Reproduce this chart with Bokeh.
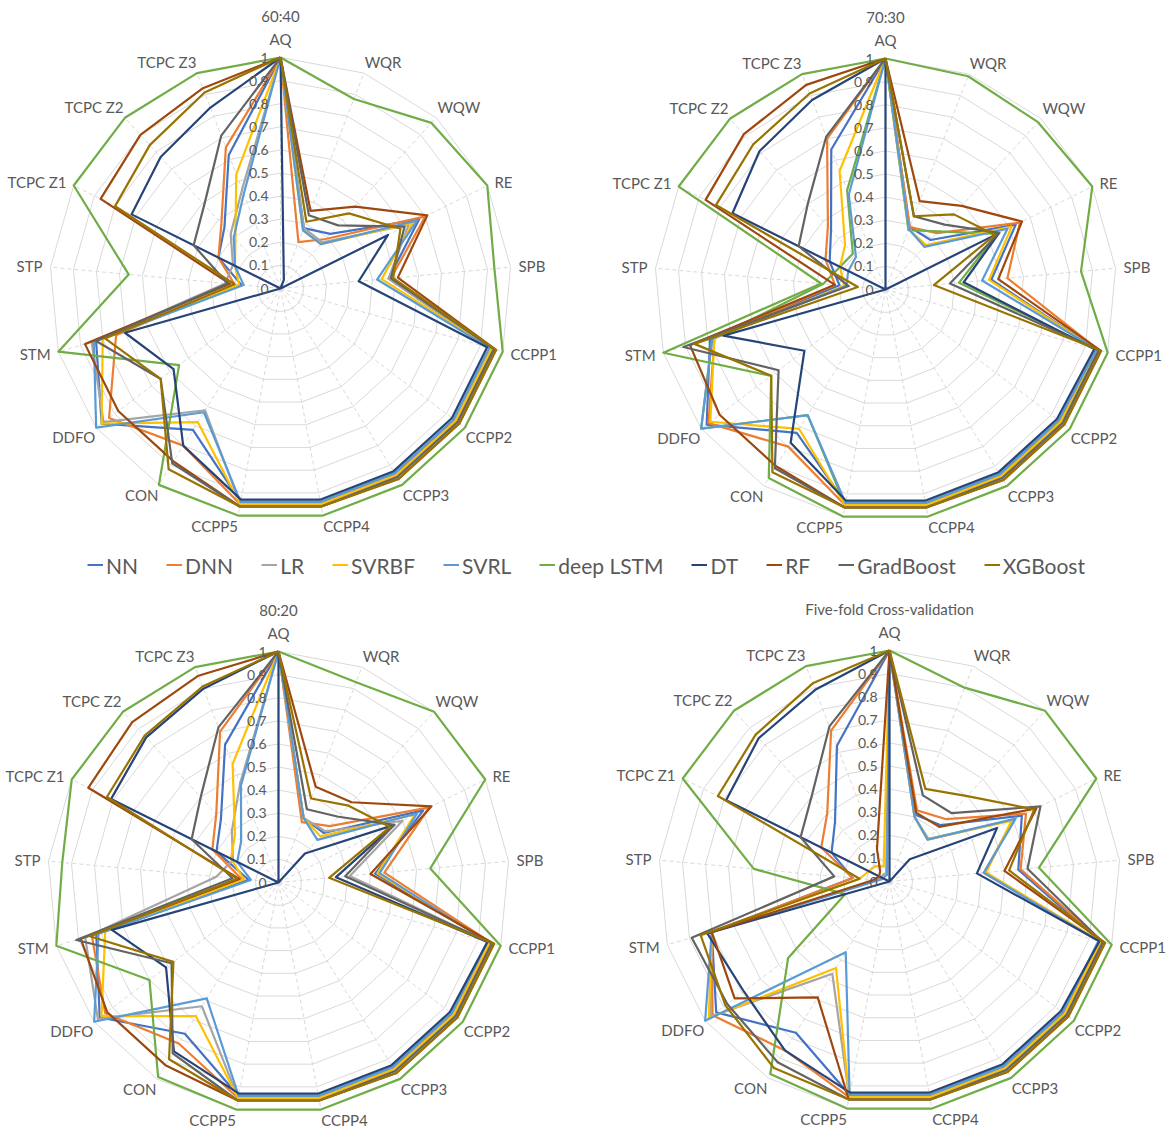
import numpy as np
from bokeh.plotting import figure
from bokeh.models import Range1d, Legend, LegendItem
from bokeh.core.properties import value
from bokeh.embed import file_html
from bokeh.resources import INLINE

# ---------------------------------------------------------------- data
AXES = ["AQ", "WQR", "WQW", "RE", "SPB", "CCPP1", "CCPP2", "CCPP3", "CCPP4",
        "CCPP5", "CON", "DDFO", "STM", "STP", "TCPC Z1", "TCPC Z2", "TCPC Z3"]
MODELS = ["NN", "DNN", "LR", "SVRBF", "SVRL", "deep LSTM", "DT", "RF",
          "GradBoost", "XGBoost"]
TICKS = [0, 0.1, 0.2, 0.3, 0.4, 0.5, 0.6, 0.7, 0.8, 0.9, 1]
TICK_LABELS = ["0", "0.1", "0.2", "0.3", "0.4", "0.5", "0.6", "0.7", "0.8", "0.9", "1"]

# 60:40 split
nn_6040 = [1, 0.28, 0.32, 0.67, 0.47, 0.95, 0.95, 0.94, 0.94, 0.94, 0.72, 0.97, 0.83, 0.17, 0.30, 0.36, 0.62]
dnn_6040 = [1, 0.215, 0.29, 0.70, 0.48, 0.96, 0.95, 0.95, 0.95, 0.95, 0.80, 0.93, 0.74, 0.20, 0.30, 0.38, 0.655]
lr_6040 = [1, 0.28, 0.27, 0.62, 0.47, 0.95, 0.95, 0.95, 0.95, 0.95, 0.62, 0.96, 0.85, 0.24, 0.23, 0.32, 0.46]
svrbf_6040 = [1, 0.27, 0.26, 0.64, 0.44, 0.95, 0.95, 0.95, 0.95, 0.95, 0.68, 0.97, 0.80, 0.18, 0.22, 0.29, 0.53]
svrl_6040 = [1, 0.27, 0.26, 0.66, 0.42, 0.94, 0.94, 0.94, 0.94, 0.94, 0.63, 1.0, 0.84, 0.16, 0.22, 0.30, 0.44]
lstm_6040 = [1, 0.88, 0.97, 1, 0.93, 1, 1, 1, 1, 1, 1, 0.55, 1, 0.66, 1, 1, 1]
dt_6040 = [1, 0.04, 0, 0.52, 0.34, 0.93, 0.93, 0.93, 0.93, 0.93, 0.80, 0.58, 0.70, 0, 0.72, 0.77, 0.84]
rf_6040 = [1, 0.36, 0.48, 0.71, 0.51, 0.97, 0.97, 0.97, 0.96, 0.96, 0.88, 0.88, 0.88, 0.22, 0.87, 0.90, 0.93]
gb_6040 = [1, 0.34, 0.37, 0.60, 0.48, 0.96, 0.96, 0.96, 0.96, 0.96, 0.89, 0.65, 0.83, 0.23, 0.42, 0.49, 0.71]
xgb_6040 = [1, 0.31, 0.44, 0.58, 0.49, 0.97, 0.97, 0.97, 0.96, 0.96, 0.92, 0.65, 0.79, 0.20, 0.80, 0.84, 0.91]

# 70:30 split
nn_7030 = [1, 0.29, 0.29, 0.63, 0.46, 0.95, 0.94, 0.94, 0.94, 0.94, 0.73, 0.97, 0.79, 0.20, 0.27, 0.35, 0.65]
dnn_7030 = [1, 0.29, 0.33, 0.65, 0.53, 0.96, 0.95, 0.95, 0.95, 0.95, 0.80, 0.96, 0.77, 0.22, 0.29, 0.37, 0.70]
lr_7030 = [1, 0.275, 0.34, 0.54, 0.32, 0.95, 0.95, 0.95, 0.95, 0.95, 0.64, 1.0, 0.78, 0.27, 0.22, 0.21, 0.46]
svrbf_7030 = [1, 0.28, 0.26, 0.61, 0.45, 0.95, 0.95, 0.95, 0.95, 0.95, 0.71, 0.95, 0.77, 0.18, 0.22, 0.26, 0.55]
svrl_7030 = [1, 0.28, 0.25, 0.59, 0.42, 0.95, 0.94, 0.94, 0.94, 0.94, 0.64, 1.0, 0.78, 0.17, 0.18, 0.19, 0.44]
lstm_7030 = [1, 0.99, 0.98, 1, 0.85, 1, 1, 1, 1, 1, 0.96, 0.62, 1, 0.28, 1, 1, 1]
dt_7030 = [1, 0, 0, 0.55, 0.34, 0.94, 0.93, 0.93, 0.93, 0.93, 0.78, 0.44, 0.73, 0, 0.74, 0.81, 0.88]
rf_7030 = [1, 0.41, 0.49, 0.66, 0.49, 0.97, 0.97, 0.97, 0.96, 0.96, 0.90, 0.90, 0.88, 0.22, 0.87, 0.91, 0.95]
gb_7030 = [1, 0.34, 0.38, 0.55, 0.28, 0.96, 0.96, 0.96, 0.96, 0.96, 0.91, 0.58, 0.91, 0.16, 0.42, 0.50, 0.71]
xgb_7030 = [1, 0.34, 0.44, 0.53, 0.21, 0.97, 0.97, 0.97, 0.96, 0.96, 0.93, 0.62, 0.86, 0.12, 0.82, 0.85, 0.91]

# 80:20 split
nn_8020 = [1, 0.30, 0.29, 0.70, 0.42, 0.95, 0.94, 0.94, 0.94, 0.94, 0.77, 0.97, 0.82, 0.13, 0.30, 0.37, 0.64]
dnn_8020 = [1, 0.28, 0.33, 0.73, 0.46, 0.96, 0.95, 0.95, 0.95, 0.95, 0.82, 0.94, 0.84, 0.16, 0.32, 0.40, 0.70]
lr_8020 = [1, 0.30, 0.30, 0.60, 0.31, 0.95, 0.95, 0.95, 0.95, 0.95, 0.63, 0.98, 0.87, 0.27, 0.22, 0.30, 0.46]
svrbf_8020 = [1, 0.30, 0.27, 0.66, 0.43, 0.95, 0.95, 0.95, 0.95, 0.95, 0.68, 0.96, 0.78, 0.15, 0.23, 0.28, 0.55]
svrl_8020 = [1, 0.30, 0.25, 0.67, 0.44, 0.94, 0.94, 0.94, 0.94, 0.94, 0.59, 1.0, 0.81, 0.12, 0.20, 0.24, 0.45]
lstm_8020 = [1, 0.93, 1, 1, 0.66, 1, 1, 1, 1, 1, 0.99, 0.70, 1, 0.94, 1, 1, 1]
dt_8020 = [1, 0, 0.17, 0.56, 0.25, 0.94, 0.93, 0.93, 0.93, 0.93, 0.86, 0.61, 0.75, 0, 0.81, 0.85, 0.90]
rf_8020 = [1, 0.445, 0.47, 0.74, 0.40, 0.97, 0.97, 0.97, 0.96, 0.96, 0.93, 0.93, 0.89, 0.17, 0.92, 0.94, 0.96]
gb_8020 = [1, 0.34, 0.385, 0.56, 0.29, 0.96, 0.96, 0.96, 0.96, 0.96, 0.87, 0.58, 0.91, 0.20, 0.42, 0.50, 0.72]
xgb_8020 = [1, 0.39, 0.45, 0.54, 0.22, 0.97, 0.97, 0.97, 0.96, 0.96, 0.90, 0.57, 0.85, 0.18, 0.83, 0.86, 0.91]

# five-fold cross-validation
nn_cv = [1, 0.31, 0.33, 0.64, 0.56, 0.95, 0.94, 0.94, 0.94, 0.94, 0.77, 0.94, 0.80, 0.16, 0.28, 0.35, 0.63]
dnn_cv = [1, 0.33, 0.365, 0.66, 0.57, 0.96, 0.95, 0.95, 0.95, 0.95, 0.86, 0.96, 0.80, 0.16, 0.33, 0.40, 0.70]
lr_cv = [1, 0.30, 0.25, 0.60, 0.41, 0.95, 0.95, 0.95, 0.95, 0.95, 0.47, 0.97, 0.80, 0.06, 0.04, 0.04, 0.04]
svrbf_cv = [1, 0.30, 0.245, 0.59, 0.42, 0.95, 0.95, 0.95, 0.95, 0.95, 0.44, 0.98, 0.80, 0.13, 0.10, 0.09, 0.07]
svrl_cv = [1, 0.30, 0.245, 0.61, 0.41, 0.94, 0.94, 0.94, 0.94, 0.94, 0.36, 1.0, 0.80, 0.05, 0.03, 0.03, 0.03]
lstm_cv = [1, 0.90, 1, 1, 0.65, 1, 1, 1, 1, 1, 0.98, 0.55, 0.20, 0.59, 1, 1, 1]
dt_cv = [1, 0, 0.13, 0.52, 0.38, 0.945, 0.93, 0.93, 0.93, 0.93, 0.86, 0.79, 0.82, 0, 0.79, 0.84, 0.89]
rf_cv = [1, 0.32, 0.32, 0.71, 0.50, 0.97, 0.97, 0.97, 0.96, 0.96, 0.59, 0.84, 0.80, 0.07, 0.05, 0.06, 0.15]
gb_cv = [1, 0.40, 0.40, 0.73, 0.60, 0.96, 0.96, 0.96, 0.96, 0.96, 0.92, 0.88, 0.89, 0.24, 0.43, 0.50, 0.72]
xgb_cv = [1, 0.43, 0.50, 0.70, 0.52, 0.97, 0.97, 0.97, 0.96, 0.96, 0.95, 0.89, 0.85, 0.13, 0.83, 0.86, 0.92]

# ---------------------------------------------------------------- style
COLOURS = ["#4472C4", "#ED7D31", "#A5A5A5", "#FFC000", "#5B9BD5",
           "#70AD47", "#264478", "#9E480E", "#636363", "#997300"]
TEXT = "#595959"
GRID = "#D9D9D9"
FONT = "Lato"
R = 231

PANELS = [
    ("60:40", 280, 288, [nn_6040, dnn_6040, lr_6040, svrbf_6040, svrl_6040,
                         lstm_6040, dt_6040, rf_6040, gb_6040, xgb_6040], {}),
    ("70:30", 885, 289, [nn_7030, dnn_7030, lr_7030, svrbf_7030, svrl_7030,
                         lstm_7030, dt_7030, rf_7030, gb_7030, xgb_7030],
     {"LR": "#70AD47"}),
    ("80:20", 278, 882, [nn_8020, dnn_8020, lr_8020, svrbf_8020, svrl_8020,
                         lstm_8020, dt_8020, rf_8020, gb_8020, xgb_8020], {}),
    ("Five-fold Cross-validation", 889, 881,
     [nn_cv, dnn_cv, lr_cv, svrbf_cv, svrl_cv, lstm_cv, dt_cv, rf_cv, gb_cv, xgb_cv], {}),
]

W, H = 1172, 1129
p = figure(width=W, height=H, x_range=Range1d(0, W), y_range=Range1d(H, 0),
           x_axis_type=None, y_axis_type=None, output_backend="svg",
           toolbar_location=None, min_border=0)
p.grid.visible = False
p.outline_line_color = None
p.background_fill_color = "white"

n = len(AXES)
ang = np.arange(n) * 2 * np.pi / n
ux, uy = np.sin(ang), -np.cos(ang)


def ring(cx, cy, vals):
    v = np.asarray(vals, dtype=float)
    xs = cx + v * R * ux
    ys = cy + v * R * uy
    return list(xs) + [xs[0]], list(ys) + [ys[0]]


legend_renderers = None
for title, cx, cy, series, overrides in PANELS:
    # concentric 17-gon grid and dashed spokes
    for t in TICKS[1:]:
        gx, gy = ring(cx, cy, [t] * n)
        p.line(gx, gy, line_color=GRID, line_width=1)
    p.segment(x0=[cx] * n, y0=[cy] * n, x1=list(cx + R * ux), y1=list(cy + R * uy),
              line_color=GRID, line_width=1, line_dash="4 3")

    renderers = []
    for name, colour, vals in zip(MODELS, COLOURS, series):
        sx, sy = ring(cx, cy, vals)
        r = p.line(sx, sy, line_color=overrides.get(name, colour), line_width=2.2,
                   line_join="round")
        renderers.append(r)
    if legend_renderers is None:
        legend_renderers = renderers

    # radial value labels on the AQ spoke
    p.text(x=[cx - 12] * len(TICKS), y=[cy - t * R for t in TICKS], text=TICK_LABELS,
           text_align="right", text_baseline="middle", text_color=TEXT,
           text_font=value(FONT), text_font_size="14px")

    # category labels around the rim
    for k, lab in enumerate(AXES):
        sx_, sy_ = ux[k], uy[k]
        align = "left" if sx_ > 0.05 else ("right" if sx_ < -0.05 else "center")
        cosv = -sy_
        base = "bottom" if cosv > 0.5 else ("top" if cosv < -0.5 else "middle")
        if base == "top":
            gap = 1
        elif base == "bottom":
            gap = 10 if align == "center" else 2
        else:
            gap = 8
        p.text(x=[cx + (R + gap) * sx_], y=[cy + (R + gap) * sy_], text=[lab],
               text_align=align, text_baseline=base, text_color=TEXT,
               text_font=value(FONT), text_font_size="15px")

    p.text(x=[cx], y=[cy - R - 33], text=[title], text_align="center",
           text_baseline="bottom", text_color=TEXT, text_font=value(FONT),
           text_font_size="15px")

legend = Legend(items=[LegendItem(label=m, renderers=[r])
                       for m, r in zip(MODELS, legend_renderers)],
                orientation="horizontal", location="center",
                glyph_width=16, glyph_height=20, label_standoff=3, spacing=28,
                padding=0, margin=0, border_line_color=None,
                background_fill_alpha=0, label_text_font=FONT,
                label_text_font_size="21px", label_text_color=TEXT)
p.add_layout(legend, "center")

open("out.html", "w").write(file_html(p, INLINE))
